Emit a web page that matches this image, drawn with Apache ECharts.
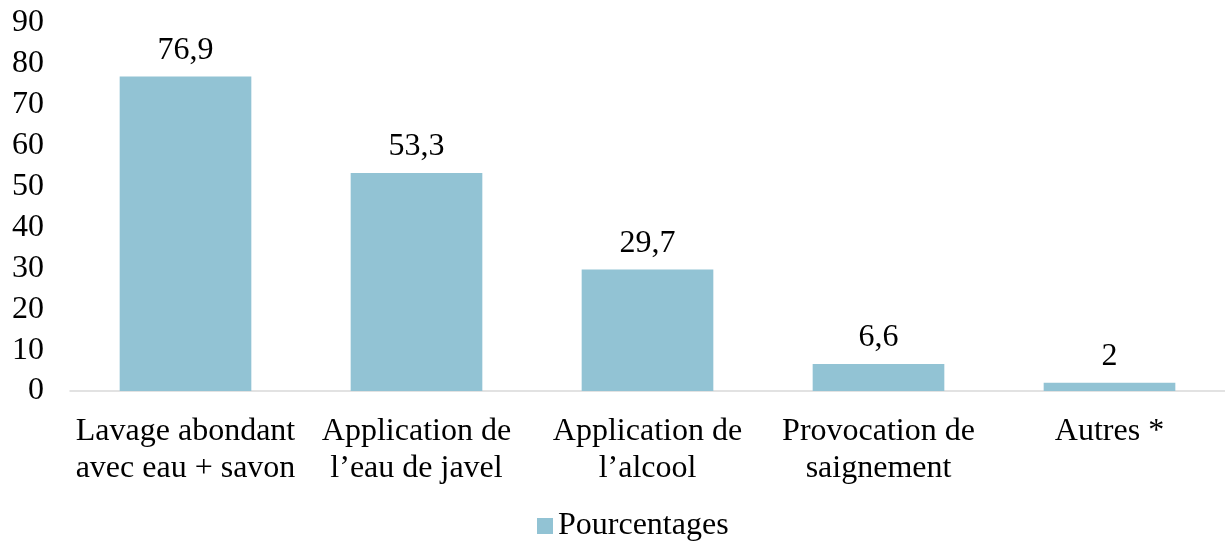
<!DOCTYPE html>
<html>
<head>
<meta charset="utf-8">
<title>Pourcentages</title>
<script src="https://cdn.jsdelivr.net/npm/echarts@6/dist/echarts.min.js"></script>
<style>
  html, body { margin: 0; padding: 0; background: #fff; }
  #main { width: 1225px; height: 541px; }
</style>
</head>
<body>
<div id="main"></div>
<script>
var categories = ['Lavage abondant\navec eau + savon', 'Application de\nl\u2019eau de javel', 'Application de\nl\u2019alcool', 'Provocation de\nsaignement', 'Autres *'];
var values = [76.9, 53.3, 29.7, 6.6, 2];
var seriesName = 'Pourcentages';

var font = '"Liberation Serif", "Times New Roman", serif';
var chart = echarts.init(document.getElementById('main'));

chart.setOption({
    animation: false,
    textStyle: { fontFamily: font },
    grid: { left: 70, right: -6, top: 23, bottom: 150, containLabel: false },
    legend: {
        bottom: -6,
        left: 532,
        icon: 'rect',
        itemWidth: 16,
        itemHeight: 16,
        itemGap: 6,
        textStyle: { fontFamily: font, fontSize: 32, color: '#000' },
        data: [seriesName]
    },
    xAxis: {
        type: 'category',
        data: categories,
        axisLine: { lineStyle: { color: '#d9d9d9', width: 1.5 } },
        axisTick: { show: false },
        axisLabel: { fontFamily: font, fontSize: 32, color: '#000', lineHeight: 37, margin: 22, interval: 0 }
    },
    yAxis: {
        type: 'value',
        min: 0,
        max: 90,
        interval: 10,
        splitLine: { show: false },
        axisLine: { show: false },
        axisTick: { show: false },
        axisLabel: { fontFamily: font, fontSize: 32, color: '#000', margin: 26 }
    },
    series: [{
        name: seriesName,
        type: 'bar',
        data: values,
        barWidth: '57%',
        itemStyle: { color: '#92c3d4' },
        label: {
            show: true,
            position: 'top',
            distance: 10,
            fontFamily: font,
            fontSize: 32,
            color: '#000',
            formatter: function (p) { return String(p.value).replace('.', ','); }
        }
    }]
});
</script>
</body>
</html>
